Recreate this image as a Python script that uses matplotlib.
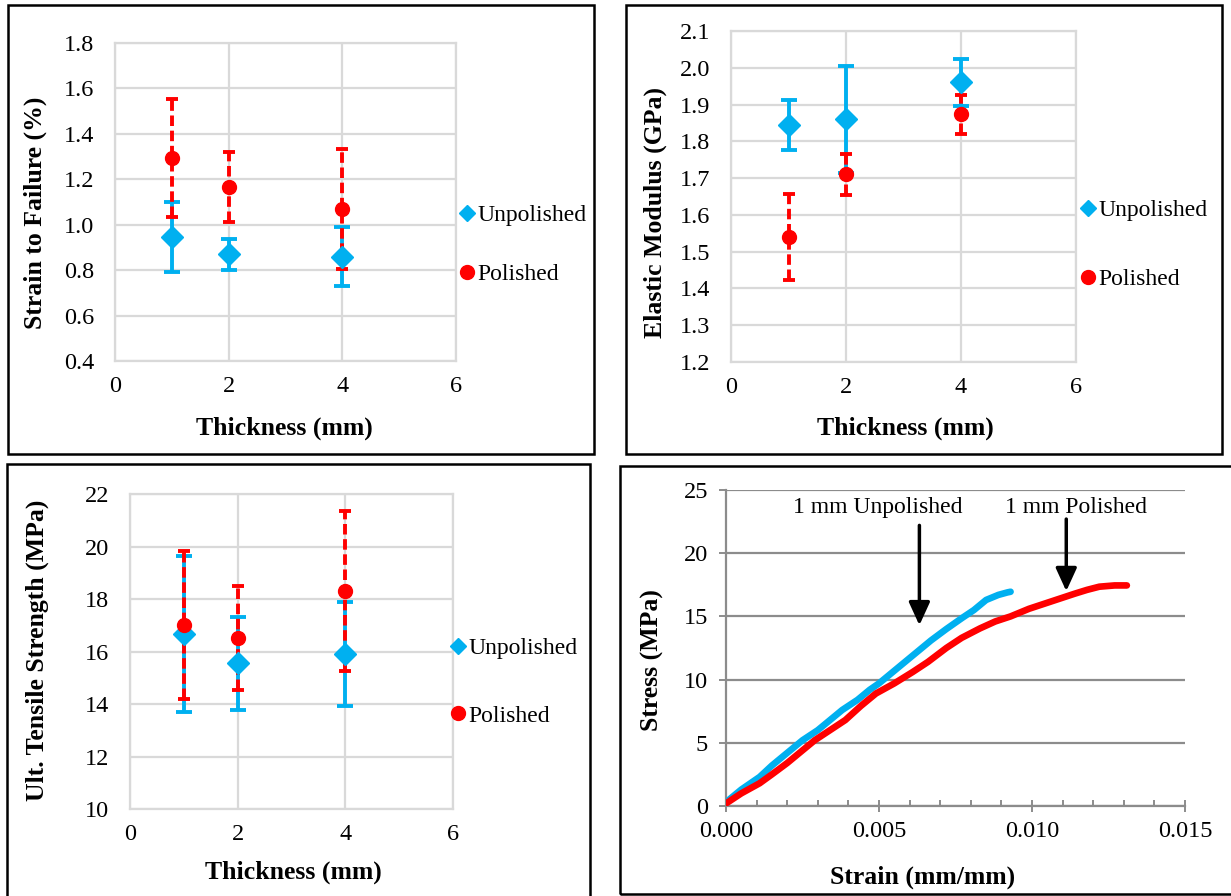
import matplotlib
matplotlib.use("Agg")
import matplotlib.pyplot as plt
from matplotlib.patches import Rectangle
from matplotlib.lines import Line2D

plt.rcParams['font.family'] = ['Liberation Serif', 'DejaVu Serif']

# ---------------- data ----------------
thickness = [1, 2, 4]

strain_unpol = [0.945, 0.870, 0.860]
strain_unpol_err = [0.155, 0.068, 0.128]
strain_pol = [1.295, 1.165, 1.070]
strain_pol_err = [0.260, 0.155, 0.265]

mod_unpol = [1.845, 1.860, 1.960]
mod_unpol_err = [0.068, 0.145, 0.065]
mod_pol = [1.540, 1.710, 1.873]
mod_pol_err = [0.118, 0.055, 0.052]

uts_unpol = [16.65, 15.55, 15.90]
uts_unpol_err = [2.97, 1.78, 1.97]
uts_pol = [17.00, 16.50, 18.30]
uts_pol_err = [2.82, 1.98, 3.05]

ss_unpol_strain = [0.0000, 0.0005, 0.0011, 0.0015, 0.0020, 0.0025, 0.0030, 0.0034,
                   0.0038, 0.0043, 0.0047, 0.0050, 0.0056, 0.0061, 0.0067, 0.0072,
                   0.0077, 0.0081, 0.0085, 0.0089, 0.0092, 0.0093]
ss_unpol_stress = [0.3, 1.3, 2.3, 3.2, 4.2, 5.2, 6.0, 6.8,
                   7.6, 8.4, 9.2, 9.7, 10.9, 11.9, 13.1, 14.0,
                   14.85, 15.5, 16.3, 16.7, 16.9, 16.95]
ss_pol_strain = [0.0000, 0.0005, 0.0011, 0.0015, 0.0020, 0.0025, 0.0029, 0.0034,
                 0.0039, 0.0044, 0.0049, 0.0055, 0.0061, 0.0066, 0.0072, 0.0077,
                 0.0083, 0.0088, 0.0093, 0.0099, 0.0104, 0.0109, 0.0114, 0.0118,
                 0.0122, 0.0127, 0.0131]
ss_pol_stress = [0.2, 1.0, 1.8, 2.5, 3.4, 4.4, 5.2, 6.0,
                 6.8, 7.9, 8.9, 9.7, 10.6, 11.4, 12.5, 13.3,
                 14.05, 14.6, 15.0, 15.6, 16.0, 16.4, 16.8, 17.1,
                 17.35, 17.45, 17.45]

series_names = ["Unpolished", "Polished"]
curve_names = ["1 mm Unpolished", "1 mm Polished"]

BLUE = '#00B0F0'
RED = '#FF0000'
GRID = '#D9D9D9'
GRID2 = '#8C8C8C'

W, H = 1231, 896
fig = plt.figure(figsize=(W / 100, H / 100), dpi=100)


def ax_at(l, r, t, b):
    return fig.add_axes([l / W, 1 - b / H, (r - l) / W, (b - t) / H])


def box(l, r, t, b):
    fig.add_artist(Rectangle((l / W, 1 - b / H), (r - l) / W, (b - t) / H,
                             transform=fig.transFigure, fill=False,
                             ec='black', lw=1.8, zorder=10))


def flabel(x, y, s, rot=0):
    fig.text(x / W, 1 - y / H, s, ha='center', va='center', rotation=rot,
             fontsize=18.5, fontweight='bold')


def scatter_panel(ax, yu, eu, yp, ep, ylim, yticks, fmt):
    ax.errorbar(thickness, yu, yerr=eu, fmt='none', ecolor=BLUE,
                elinewidth=2.8, capsize=5.5, capthick=2.8, zorder=3)
    eb2 = ax.errorbar(thickness, yp, yerr=ep, fmt='none', ecolor=RED,
                      elinewidth=2.8, capsize=4.5, capthick=2.8, zorder=4)
    for lc in eb2[2]:
        lc.set_linestyle((0, (2.7, 1.2)))
    ax.plot(thickness, yu, 'D', color=BLUE, ms=11.5, mec=BLUE, zorder=5)
    ax.plot(thickness, yp, 'o', color=RED, ms=10, mec=RED, zorder=6)
    ax.set_xlim(0, 6)
    ax.set_xticks([0, 2, 4, 6])
    ax.set_ylim(*ylim)
    ax.set_yticks(yticks)
    ax.set_yticklabels([fmt.format(v) for v in yticks])
    ax.grid(True, color=GRID, lw=1.6, zorder=0)
    ax.set_axisbelow(True)
    for s in ax.spines.values():
        s.set_color(GRID)
        s.set_linewidth(1.6)
    ax.tick_params(axis='both', length=0, labelsize=17.5)
    ax.tick_params(axis='y', pad=15)
    ax.tick_params(axis='x', pad=11)


def legend_at(xpix, ypix, spacing):
    handles = [Line2D([], [], ls='none', marker='D', color=BLUE, ms=8),
               Line2D([], [], ls='none', marker='o', color=RED, ms=10)]
    fig.legend(handles, series_names, loc='center left',
               bbox_to_anchor=(xpix / W, 1 - ypix / H), frameon=False,
               fontsize=17, handlelength=0.6, handletextpad=0.15,
               labelspacing=spacing, borderpad=0, borderaxespad=0)


# Panel 1
box(8, 594, 5, 454)
ax1 = ax_at(115, 456, 43, 361)
scatter_panel(ax1, strain_unpol, strain_unpol_err, strain_pol, strain_pol_err,
              (0.4, 1.8), [0.4, 0.6, 0.8, 1.0, 1.2, 1.4, 1.6, 1.8], '{:.1f}')
flabel(35, 213, 'Strain to Failure (%)', 90)
flabel(284, 428, 'Thickness (mm)')
legend_at(460, 245, 1.6)

# Panel 2
box(626, 1222, 5, 454)
ax2 = ax_at(731, 1076, 31, 362)
scatter_panel(ax2, mod_unpol, mod_unpol_err, mod_pol, mod_pol_err,
              (1.2, 2.1), [1.2, 1.3, 1.4, 1.5, 1.6, 1.7, 1.8, 1.9, 2.0, 2.1], '{:.1f}')
flabel(655, 213, 'Elastic Modulus (GPa)', 90)
flabel(905, 428, 'Thickness (mm)')
legend_at(1081, 245, 2.0)

# Panel 3
box(7, 590, 464, 905)
ax3 = ax_at(130, 453, 494, 809)
scatter_panel(ax3, uts_unpol, uts_unpol_err, uts_pol, uts_pol_err,
              (10, 22), [10, 12, 14, 16, 18, 20, 22], '{:.0f}')
flabel(37, 650, 'Ult. Tensile Strength (MPa)', 90)
flabel(293, 872, 'Thickness (mm)')
legend_at(451, 682, 1.95)

# Panel 4
box(620, 1240, 466, 894)
ax4 = ax_at(726, 1185, 490, 806)
ax4.plot(ss_unpol_strain, ss_unpol_stress, color=BLUE, lw=4.8,
         solid_capstyle='round', solid_joinstyle='round', zorder=3)
ax4.plot(ss_pol_strain, ss_pol_stress, color=RED, lw=4.8,
         solid_capstyle='round', solid_joinstyle='round', zorder=4)
ax4.set_xlim(0, 0.015)
ax4.set_ylim(0, 25)
ax4.set_xticks([0, 0.005, 0.010, 0.015])
ax4.set_xticklabels(['0.000', '0.005', '0.010', '0.015'])
ax4.set_xticks([i * 0.001 for i in range(16)], minor=True)
ax4.set_yticks([0, 5, 10, 15, 20, 25])
ax4.grid(True, axis='y', color=GRID2, lw=1.6, zorder=0)
ax4.set_axisbelow(True)
for k in ['top', 'right']:
    ax4.spines[k].set_visible(False)
for k in ['left', 'bottom']:
    ax4.spines[k].set_color(GRID2)
    ax4.spines[k].set_linewidth(1.6)
ax4.tick_params(axis='x', which='major', direction='inout', length=8,
                width=1.4, color=GRID2, labelsize=17.5, pad=7)
ax4.tick_params(axis='x', which='minor', direction='in', length=4,
                width=1.4, color=GRID2)
ax4.tick_params(axis='y', which='major', direction='out', length=5,
                width=1.4, color=GRID2, labelsize=17.5, pad=8)
ax4.annotate('', xy=(0.00632, 14.3), xytext=(0.00632, 22.2),
             arrowprops=dict(arrowstyle='-|>,head_length=0.7,head_width=0.32',
                             lw=2.5, color='black', mutation_scale=20,
                             shrinkA=0, shrinkB=0))
ax4.annotate('', xy=(0.01112, 17.0), xytext=(0.01112, 22.7),
             arrowprops=dict(arrowstyle='-|>,head_length=0.7,head_width=0.32',
                             lw=2.5, color='black', mutation_scale=20,
                             shrinkA=0, shrinkB=0))
ax4.text(0.00497, 23.6, curve_names[0], ha='center', va='center', fontsize=17)
ax4.text(0.01144, 23.65, curve_names[1], ha='center', va='center', fontsize=17)
flabel(652, 660, 'Stress (MPa)', 90)
flabel(923, 877, 'Strain (mm/mm)')

fig.savefig('out.png', dpi=100)
